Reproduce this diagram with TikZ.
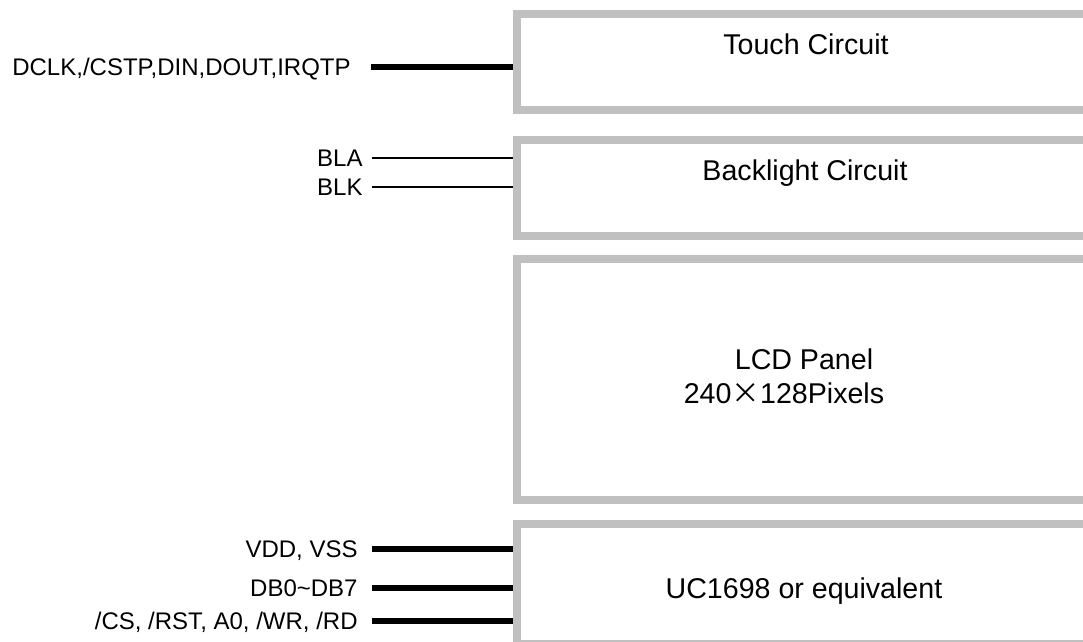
\documentclass[tikz,border=0pt]{standalone}
\usepackage{fontspec}
\setmainfont{Liberation Sans}
\newfontfamily\cjk{Noto Sans CJK SC}
\usetikzlibrary{positioning}
\definecolor{boxgray}{RGB}{192,192,192}

\begin{document}
\begin{tikzpicture}[x=0.5pt, y=-0.5pt,
  block/.style={rectangle, draw=boxgray, line width=4pt, minimum width=288pt, inner sep=0pt},
  title/.style={font=\fontsize{14.3}{17}\selectfont, inner sep=0pt, anchor=base},
  pin/.style={font=\fontsize{12}{14}\selectfont, inner sep=0pt, text height=8.6pt, text depth=0pt},
  bus/.style={line width=3.2pt},
  wire/.style={line width=1pt}]
  \useasboundingbox (0,0) rectangle (1083,642);
  \clip (0,0) rectangle (1083,642);

  % 4 blocks
  \node[block, minimum height=48pt] (touch) at (805,62) {};
  \node[block, minimum height=48pt] (backlight) at (805,188) {};
  \node[block, minimum height=120.5pt] (lcd) at (805,379.5) {};
  \node[block, minimum height=60pt] (driver) at (805,584) {};

  % Titles
  \node[title] (touchtxt) at (806,55) {Touch Circuit};
  \node[title] (backtxt) at (805,181) {Backlight Circuit};
  \node[title] (lcdtxt) at (804,369) {LCD Panel};
  \node[title] (sizetxt) at (784,403) {240{\cjk ×}128Pixels};
  \node[title] (drivertxt) at (804,598) {UC1698 or equivalent};

  % Touch pins
  \coordinate (dclk) at (371,67);
  \node[pin, left=10pt of dclk] (dclklbl) {DCLK,/CSTP,DIN,DOUT,IRQTP};
  \draw[bus] (dclk) -- (dclk -| touch.west);

  % Backlight pins
  \coordinate (bla) at (372,158);
  \coordinate (blk) at (372,187);
  \node[pin, left=4.5pt of bla] (blalbl) {BLA};
  \node[pin, left=4.5pt of blk] (blklbl) {BLK};
  \draw[wire] (bla) -- (bla -| backlight.west);
  \draw[wire] (blk) -- (blk -| backlight.west);

  % Driver pins
  \coordinate (vdd) at (372,549);
  \coordinate (db) at (372,588);
  \coordinate (cs) at (372,621);
  \node[pin, left=7pt of vdd] (vddlbl) {VDD, VSS};
  \node[pin, left=7pt of db] (dblbl) {DB0\char`\~DB7};
  \node[pin, left=7pt of cs] (cslbl) {/CS, /RST, A0, /WR, /RD};
  \draw[bus] (vdd) -- (vdd -| driver.west);
  \draw[bus] (db) -- (db -| driver.west);
  \draw[bus] (cs) -- (cs -| driver.west);
\end{tikzpicture}
\end{document}
